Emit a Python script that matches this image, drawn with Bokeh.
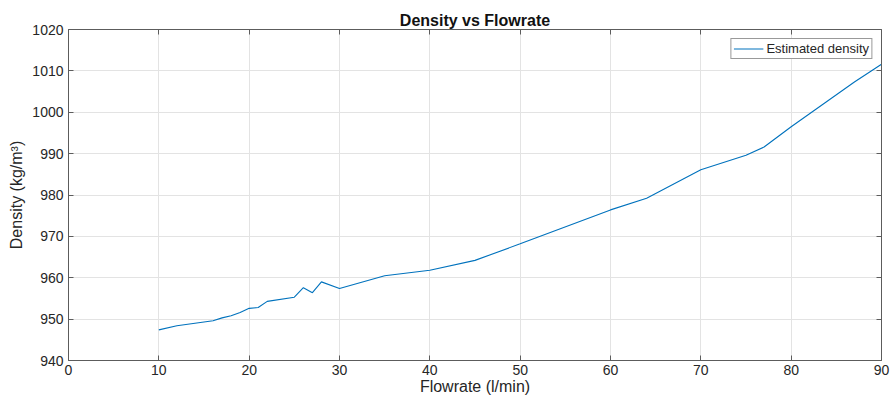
from bokeh.plotting import figure
from bokeh.models import LinearAxis, Range1d, FixedTicker, Legend, LegendItem
from bokeh.embed import file_html
from bokeh.resources import INLINE

# Data
flowrate = [10, 12, 14, 16, 17, 18, 19, 20, 21, 22, 25, 26, 27, 28, 30, 35, 40, 45,
            50, 60, 64, 70, 75, 77, 80, 87, 90]
density = [947.4, 948.4, 949.0, 949.6, 950.3, 950.8, 951.6, 952.6, 952.8, 954.3, 955.3,
           957.6, 956.4, 959.0, 957.4, 960.5, 961.8, 964.2, 968.2, 976.4, 979.2, 986.1,
           989.6, 991.6, 996.5, 1007.3, 1011.6]
x_ticks = [0, 10, 20, 30, 40, 50, 60, 70, 80, 90]
y_ticks = [940, 950, 960, 970, 980, 990, 1000, 1010, 1020]

FONT = "Liberation Sans"
AXIS_COL = "#5c5c5c"
TEXT_COL = "#262626"

p = figure(width=891, height=399, output_backend="svg", toolbar_location=None,
           x_range=Range1d(0, 90), y_range=Range1d(940, 1020),
           min_border_left=68, min_border_right=10, min_border_top=29, min_border_bottom=39,
           x_axis_label="Flowrate (l/min)", y_axis_label="Density (kg/m³)")

p.title.text = "Density vs Flowrate"
p.title.align = "center"
p.title.text_font = FONT
p.title.text_font_size = "16px"
p.title.text_font_style = "bold"
p.title.text_color = "#111111"
p.title.standoff = 1

p.background_fill_color = "white"
p.border_fill_color = "white"
p.outline_line_color = None

for ax in (p.xaxis[0], p.yaxis[0]):
    ax.axis_line_color = AXIS_COL
    ax.major_tick_line_color = AXIS_COL
    ax.major_tick_in = 5
    ax.major_tick_out = 0
    ax.minor_tick_line_color = None
    ax.major_label_text_font = FONT
    ax.major_label_text_font_size = "14px"
    ax.major_label_text_color = TEXT_COL
    ax.axis_label_text_font = FONT
    ax.axis_label_text_font_size = "16px"
    ax.axis_label_text_font_style = "normal"
    ax.axis_label_text_color = TEXT_COL

p.xaxis[0].ticker = FixedTicker(ticks=x_ticks)
p.yaxis[0].ticker = FixedTicker(ticks=y_ticks)
p.xaxis[0].major_label_standoff = 4
p.xaxis[0].axis_label_standoff = 0
p.yaxis[0].major_label_standoff = 5
p.yaxis[0].axis_label_standoff = 4

for loc, ticks in (("above", x_ticks), ("right", y_ticks)):
    ax = LinearAxis(ticker=FixedTicker(ticks=ticks))
    ax.axis_line_color = AXIS_COL
    ax.major_tick_line_color = AXIS_COL
    ax.major_tick_in = 5
    ax.major_tick_out = 0
    ax.minor_tick_line_color = None
    ax.major_label_overrides = {t: "" for t in ticks}
    ax.major_label_text_font_size = "10px"
    ax.major_label_standoff = 0
    p.add_layout(ax, loc)

p.xgrid.ticker = FixedTicker(ticks=x_ticks)
p.ygrid.ticker = FixedTicker(ticks=y_ticks)
p.xgrid.grid_line_color = "#e3e3e3"
p.ygrid.grid_line_color = "#e3e3e3"

r = p.line(flowrate, density, line_color="#0072BD", line_width=1.1)

legend = Legend(items=[LegendItem(label="Estimated density", renderers=[r])],
                location="top_right")
legend.margin = 9
legend.padding = 2
legend.spacing = 0
legend.glyph_width = 30
legend.glyph_height = 13
legend.label_height = 13
legend.label_standoff = 3
legend.label_text_font = FONT
legend.label_text_font_size = "13px"
legend.label_text_color = TEXT_COL
legend.border_line_color = "#333333"
legend.border_line_width = 1
legend.background_fill_color = "white"
legend.background_fill_alpha = 1
p.add_layout(legend, "center")

open("out.html", "w").write(file_html(p, INLINE))
